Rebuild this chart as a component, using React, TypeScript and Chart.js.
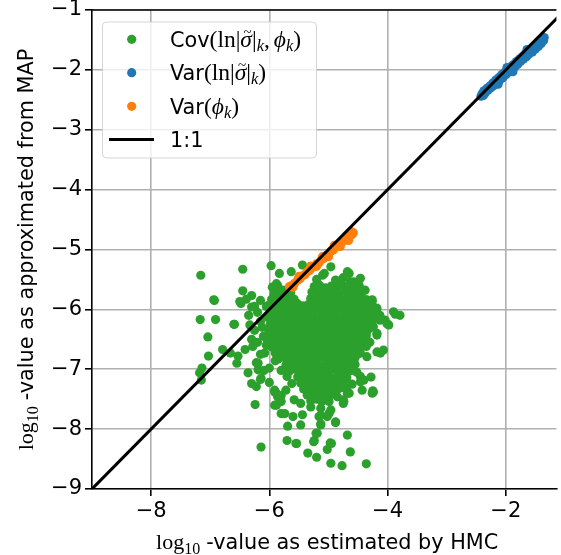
import { useEffect, useRef } from 'react';
import { Chart, registerables } from 'chart.js';

Chart.register(...registerables);

// ---------- data (log10 values) ----------
const X_MIN = -9;
const X_MAX = -1.144;
const Y_MIN = -9;
const Y_MAX = -1;
const xTickValues = [-8, -6, -4, -2];
const yTickValues = [-9, -8, -7, -6, -5, -4, -3, -2, -1];

const seriesLabels = ['Cov', 'Var(ln)', 'Var(phi)', '1:1'];

// Cov(ln|σ̃|_k, φ_k): scattered outer points
const covOuter: [number, number][] = [
  [-7.16, -5.43], [-6.45, -5.33], [-5.97, -5.27], [-6.93, -5.85], [-6.45, -5.69], [-6.30, -5.77],
  [-6.39, -5.83], [-6.48, -5.90], [-6.30, -5.96], [-7.17, -6.17], [-6.91, -6.17], [-6.60, -6.25],
  [-6.33, -6.26], [-7.04, -6.46], [-6.79, -6.67], [-7.03, -6.78], [-6.41, -6.67], [-6.53, -6.78],
  [-7.14, -6.98], [-7.18, -7.06], [-7.15, -7.18], [-6.24, -7.59], [-6.14, -8.30], [-6.36, -7.06],
  [-6.30, -7.24], [-6.22, -7.29], [-6.15, -7.17], [-6.22, -6.89], [-6.19, -7.01], [-6.09, -7.02],
  [-6.00, -7.22], [-5.91, -7.38], [-5.91, -7.60], [-5.69, -7.95], [-5.70, -8.19], [-5.54, -8.24],
  [-5.35, -8.40], [-5.20, -8.47], [-4.96, -8.57], [-4.77, -8.61], [-4.36, -8.58], [-5.24, -8.19],
  [-5.21, -8.07], [-5.02, -8.34], [-4.95, -8.24], [-4.63, -8.38], [-4.68, -8.10], [-4.88, -7.89],
  [-5.13, -7.93], [-5.16, -7.79], [-5.02, -7.79], [-4.96, -7.68], [-5.47, -7.93], [-5.44, -7.76],
  [-5.60, -7.79], [-5.80, -7.74], [-5.88, -7.60], [-4.26, -7.40], [-4.25, -7.36], [-4.28, -7.13],
  [-4.46, -7.21], [-4.40, -7.18], [-4.65, -7.40], [-4.75, -7.51], [-4.75, -7.57], [-5.91, -7.35],
  [-5.86, -7.46], [-5.72, -7.35], [-5.58, -7.51], [-5.47, -7.57], [-5.30, -7.63], [-5.13, -7.65],
  [-4.99, -7.54], [-4.85, -7.46], [-4.35, -6.79], [-4.12, -6.73], [-3.79, -6.10], [-3.90, -6.04],
  [-4.13, -6.10], [-4.04, -6.18], [-3.98, -6.26], [-4.18, -5.98], [-4.26, -5.84], [-4.38, -5.68],
  [-4.46, -5.48], [-4.65, -5.40], [-4.63, -5.54], [-4.82, -5.57], [-4.88, -5.51], [-5.10, -5.43],
  [-4.96, -5.29], [-5.83, -5.40], [-5.63, -5.37], [-5.88, -5.57], [-5.77, -5.68], [-4.18, -6.43],
  [-4.07, -6.68], [-4.57, -6.62], [-4.24, -6.29], [-4.35, -6.37], [-5.44, -5.26], [-5.30, -5.28],
  [-6.94, -5.84], [-6.66, -6.73], [-6.59, -6.25], [-6.50, -5.87], [-6.55, -6.90], [-6.19, -6.90],
  [-6.14, -7.15], [-6.08, -6.73], [-6.00, -6.98], [-5.88, -7.40], [-5.80, -7.54], [-5.74, -7.74],
  [-5.80, -7.44], [-5.55, -8.24], [-5.25, -8.21], [-5.19, -8.07], [-4.97, -8.23], [-4.88, -7.88],
  [-4.99, -7.74], [-5.13, -7.77], [-5.13, -7.91], [-4.24, -7.38], [-4.01, -6.24], [-3.87, -6.08],
  [-4.46, -7.12], [-4.43, -7.35], [-4.68, -7.40], [-4.74, -7.54], [-4.18, -6.71], [-4.46, -6.73],
  [-4.13, -6.18], [-4.18, -6.40], [-4.35, -5.84], [-4.26, -5.87], [-4.68, -5.37], [-4.57, -5.54],
  [-4.63, -5.65], [-4.85, -5.54], [-5.07, -5.40], [-6.20, -6.05], [-6.15, -6.20], [-6.25, -6.35],
  [-6.10, -6.45], [-6.20, -6.55], [-6.05, -6.60], [-6.30, -6.50], [-6.12, -6.30], [-6.05, -5.95],
  [-6.15, -5.85], [-6.25, -5.95], [-6.35, -6.10], [-6.28, -6.62], [-6.15, -6.75],
  [-5.20, -5.50], [-4.75, -5.47], [-5.90, -6.86], [-5.80, -7.02], [-5.70, -7.12], [-5.62, -7.24],
  [-4.55, -6.92], [-4.52, -7.05], [-4.60, -7.25], [-4.70, -7.32], [-4.30, -6.55], [-4.36, -6.62],
];

// Cov(ln|σ̃|_k, φ_k): dense core
const covCore: [number, number][] = [
  [-5.95, -5.63], [-5.86, -5.60], [-5.24, -5.62], [-5.15, -5.60], [-5.05, -5.64], [-4.95, -5.61], [-4.86, -5.63], [-4.76, -5.60], [-4.55, -5.62], [-4.48, -5.60],
  [-5.92, -5.73], [-5.83, -5.70], [-5.74, -5.74], [-5.64, -5.72], [-5.28, -5.71], [-5.19, -5.74], [-5.10, -5.70], [-5.01, -5.73], [-4.91, -5.71], [-4.82, -5.74], [-4.72, -5.70], [-4.63, -5.73], [-4.53, -5.71], [-4.45, -5.75],
  [-5.96, -5.83], [-5.87, -5.80], [-5.77, -5.84], [-5.68, -5.81], [-5.58, -5.83], [-5.30, -5.82], [-5.21, -5.80], [-5.11, -5.84], [-5.02, -5.81], [-4.92, -5.83], [-4.83, -5.80], [-4.73, -5.84], [-4.64, -5.81], [-4.54, -5.83], [-4.45, -5.80], [-4.37, -5.84],
  [-6.01, -5.93], [-5.91, -5.90], [-5.82, -5.94], [-5.72, -5.91], [-5.63, -5.93], [-5.53, -5.90], [-5.44, -5.94], [-5.34, -5.92], [-5.25, -5.90], [-5.15, -5.94], [-5.06, -5.91], [-4.96, -5.93], [-4.87, -5.90], [-4.77, -5.94], [-4.68, -5.91], [-4.58, -5.93], [-4.49, -5.90], [-4.40, -5.94], [-4.31, -5.92],
  [-5.97, -6.03], [-5.87, -6.00], [-5.78, -6.04], [-5.68, -6.01], [-5.59, -6.03], [-5.49, -6.00], [-5.40, -6.04], [-5.30, -6.02], [-5.21, -6.00], [-5.11, -6.04], [-5.02, -6.01], [-4.92, -6.03], [-4.83, -6.00], [-4.73, -6.04], [-4.64, -6.01], [-4.54, -6.03], [-4.45, -6.00], [-4.35, -6.04], [-4.26, -6.02], [-4.18, -6.05],
  [-6.03, -6.13], [-5.93, -6.10], [-5.84, -6.14], [-5.74, -6.11], [-5.65, -6.13], [-5.55, -6.10], [-5.46, -6.14], [-5.36, -6.12], [-5.27, -6.10], [-5.17, -6.14], [-5.08, -6.11], [-4.98, -6.13], [-4.89, -6.10], [-4.79, -6.14], [-4.70, -6.11], [-4.60, -6.13], [-4.51, -6.10], [-4.41, -6.14], [-4.32, -6.12], [-4.22, -6.10], [-4.14, -6.14],
  [-5.98, -6.23], [-5.88, -6.20], [-5.79, -6.24], [-5.69, -6.21], [-5.60, -6.23], [-5.50, -6.20], [-5.41, -6.24], [-5.31, -6.22], [-5.22, -6.20], [-5.12, -6.24], [-5.03, -6.21], [-4.93, -6.23], [-4.84, -6.20], [-4.74, -6.24], [-4.65, -6.21], [-4.55, -6.23], [-4.46, -6.20], [-4.36, -6.24], [-4.27, -6.22],
  [-6.02, -6.33], [-5.92, -6.30], [-5.83, -6.34], [-5.73, -6.31], [-5.64, -6.33], [-5.54, -6.30], [-5.45, -6.34], [-5.35, -6.32], [-5.26, -6.30], [-5.16, -6.34], [-5.07, -6.31], [-4.97, -6.33], [-4.88, -6.30], [-4.78, -6.34], [-4.69, -6.31], [-4.59, -6.33], [-4.50, -6.30], [-4.40, -6.34], [-4.31, -6.32],
  [-5.97, -6.43], [-5.87, -6.40], [-5.78, -6.44], [-5.68, -6.41], [-5.59, -6.43], [-5.49, -6.40], [-5.40, -6.44], [-5.30, -6.42], [-5.21, -6.40], [-5.11, -6.44], [-5.02, -6.41], [-4.92, -6.43], [-4.83, -6.40], [-4.73, -6.44], [-4.64, -6.41], [-4.54, -6.43], [-4.45, -6.40], [-4.36, -6.44],
  [-6.03, -6.53], [-5.93, -6.50], [-5.84, -6.54], [-5.74, -6.51], [-5.65, -6.53], [-5.55, -6.50], [-5.46, -6.54], [-5.36, -6.52], [-5.27, -6.50], [-5.17, -6.54], [-5.08, -6.51], [-4.98, -6.53], [-4.89, -6.50], [-4.79, -6.54], [-4.70, -6.51], [-4.60, -6.53], [-4.51, -6.50], [-4.42, -6.54],
  [-5.96, -6.63], [-5.86, -6.60], [-5.77, -6.64], [-5.67, -6.61], [-5.58, -6.63], [-5.48, -6.60], [-5.39, -6.64], [-5.29, -6.62], [-5.20, -6.60], [-5.10, -6.64], [-5.01, -6.61], [-4.91, -6.63], [-4.82, -6.60], [-4.72, -6.64], [-4.63, -6.61], [-4.53, -6.63], [-4.46, -6.60],
  [-5.90, -6.73], [-5.80, -6.70], [-5.71, -6.74], [-5.61, -6.71], [-5.52, -6.73], [-5.42, -6.70], [-5.33, -6.74], [-5.23, -6.72], [-5.14, -6.70], [-5.04, -6.74], [-4.95, -6.71], [-4.85, -6.73], [-4.76, -6.70], [-4.66, -6.74], [-4.57, -6.71], [-4.50, -6.74],
  [-5.85, -6.83], [-5.75, -6.80], [-5.66, -6.84], [-5.56, -6.81], [-5.47, -6.83], [-5.37, -6.80], [-5.28, -6.84], [-5.18, -6.82], [-5.09, -6.80], [-4.99, -6.84], [-4.90, -6.81], [-4.80, -6.83], [-4.71, -6.80], [-4.62, -6.84], [-4.55, -6.81],
  [-5.72, -6.93], [-5.62, -6.90], [-5.53, -6.94], [-5.43, -6.91], [-5.34, -6.93], [-5.24, -6.90], [-5.15, -6.94], [-5.05, -6.92], [-4.96, -6.90], [-4.86, -6.94], [-4.77, -6.91], [-4.67, -6.93], [-4.60, -6.90],
  [-5.66, -7.03], [-5.56, -7.00], [-5.47, -7.04], [-5.37, -7.01], [-5.28, -7.03], [-5.18, -7.00], [-5.09, -7.04], [-4.99, -7.02], [-4.90, -7.00], [-4.80, -7.04], [-4.71, -7.01], [-4.64, -7.03],
  [-5.52, -7.13], [-5.42, -7.10], [-5.33, -7.14], [-5.23, -7.11], [-5.14, -7.13], [-5.04, -7.10], [-4.95, -7.14], [-4.85, -7.12], [-4.76, -7.10], [-4.69, -7.14],
  [-5.47, -7.23], [-5.37, -7.20], [-5.28, -7.24], [-5.18, -7.21], [-5.09, -7.23], [-4.99, -7.20], [-4.90, -7.24], [-4.80, -7.22], [-4.74, -7.20],
  [-5.42, -7.33], [-5.32, -7.30], [-5.23, -7.34], [-5.13, -7.31], [-5.04, -7.33], [-4.94, -7.30], [-4.85, -7.34], [-4.79, -7.31],
  [-5.36, -7.43], [-5.27, -7.40], [-5.17, -7.44], [-5.08, -7.41], [-4.98, -7.43], [-4.90, -7.40],
  [-5.30, -7.53], [-5.20, -7.50], [-5.11, -7.54], [-5.02, -7.51],
];

// Var(ln|σ̃|_k)
const varLnPoints: [number, number][] = [
  [-2.40, -2.40], [-2.37, -2.35], [-2.35, -2.39], [-2.32, -2.31], [-2.30, -2.34], [-2.27, -2.27],
  [-2.25, -2.30], [-2.22, -2.22], [-2.20, -2.26], [-2.17, -2.17], [-2.15, -2.21], [-2.12, -2.13],
  [-2.10, -2.17], [-2.07, -2.08], [-2.05, -2.13], [-2.02, -2.04], [-2.00, -2.08], [-1.97, -1.99],
  [-1.95, -2.04], [-1.92, -1.95], [-1.90, -1.99], [-1.87, -1.91], [-1.85, -1.95], [-1.82, -1.86],
  [-1.80, -1.91], [-1.77, -1.82], [-1.75, -1.86], [-1.72, -1.78], [-1.70, -1.82], [-1.67, -1.73],
  [-1.65, -1.78], [-1.62, -1.69], [-1.60, -1.73], [-1.57, -1.65], [-1.55, -1.70], [-1.52, -1.61],
  [-1.50, -1.65], [-1.47, -1.57], [-1.45, -1.61], [-1.42, -1.53], [-1.40, -1.56], [-1.37, -1.47],
  [-1.35, -1.46], [-1.36, -1.51], [-2.42, -2.44], [-2.38, -2.43], [-2.13, -2.24], [-1.88, -2.03],
  [-1.64, -1.66], [-1.98, -1.96],
];

// Var(φ_k)
const varPhiPoints: [number, number][] = [
  [-5.66, -5.62], [-5.62, -5.60], [-5.60, -5.63],
  [-5.57, -5.56], [-5.52, -5.51], [-5.48, -5.49], [-5.44, -5.44], [-5.40, -5.42], [-5.36, -5.37],
  [-5.32, -5.35], [-5.28, -5.30], [-5.24, -5.29], [-5.20, -5.24], [-5.16, -5.22], [-5.12, -5.17],
  [-5.08, -5.15], [-5.04, -5.10], [-5.00, -5.08], [-4.96, -5.03], [-4.92, -5.01], [-4.88, -4.96],
  [-4.84, -4.94], [-4.80, -4.90], [-4.76, -4.87], [-4.72, -4.84], [-4.68, -4.80], [-4.64, -4.77],
  [-4.60, -4.75], [-5.50, -5.45], [-5.30, -5.28], [-5.10, -5.12], [-4.90, -4.93], [-4.70, -4.78],
  [-4.62, -4.70], [-5.20, -5.28], [-5.00, -5.12], [-4.80, -4.95], [-4.66, -4.85], [-4.58, -4.72],
];

const oneToOneLine: [number, number][] = [[-9, -9], [-1, -1]];

// ---------- styling helpers ----------
const SANS = '"DejaVu Sans"';
const SERIF = '"Liberation Serif"';
const FS = 20.8;
const GREEN = '#2ca02c';
const BLUE = '#1f77b4';
const ORANGE = '#ff7f0e';
const DOT_R = 4.6;

type Seg = { t: string; f: string; dy?: number; tilde?: boolean; gap?: number };

const sans = `${FS}px ${SANS}`;
const serif = `23.5px ${SERIF}`;
const serifIt = `italic 23.5px ${SERIF}`;
const serifSub = `italic 16.5px ${SERIF}`;
const serifSubR = `16px ${SERIF}`;
const serifT = `22px ${SERIF}`;

function segWidth(ctx: CanvasRenderingContext2D, segs: Seg[]) {
  let w = 0;
  for (const s of segs) {
    ctx.font = s.f;
    w += ctx.measureText(s.t).width + (s.gap || 0);
  }
  return w;
}

function drawSegs(ctx: CanvasRenderingContext2D, segs: Seg[], x: number, y: number) {
  let cx = x;
  for (const s of segs) {
    ctx.font = s.f;
    const w = ctx.measureText(s.t).width;
    ctx.fillText(s.t, cx, y + (s.dy || 0));
    if (s.tilde) {
      ctx.font = `15px ${SERIF}`;
      const tw = ctx.measureText('~').width;
      ctx.fillText('~', cx + w / 2 - tw / 2 + 1.5, y - 10);
    }
    cx += w + (s.gap || 0);
  }
}

const legendRows: { segs: Seg[]; color?: string; line?: boolean }[] = [
  {
    color: GREEN,
    segs: [
      { t: 'Cov', f: sans }, { t: '(', f: serif }, { t: 'ln', f: serif }, { t: '|', f: serif },
      { t: 'σ', f: serifIt, tilde: true }, { t: '|', f: serif }, { t: 'k', f: serifSub, dy: 4 },
      { t: ',', f: serif, gap: 4 }, { t: 'ϕ', f: serifIt }, { t: 'k', f: serifSub, dy: 4 }, { t: ')', f: serif },
    ],
  },
  {
    color: BLUE,
    segs: [
      { t: 'Var', f: sans }, { t: '(', f: serif }, { t: 'ln', f: serif }, { t: '|', f: serif },
      { t: 'σ', f: serifIt, tilde: true }, { t: '|', f: serif }, { t: 'k', f: serifSub, dy: 4 }, { t: ')', f: serif },
    ],
  },
  {
    color: ORANGE,
    segs: [{ t: 'Var', f: sans }, { t: '(', f: serif }, { t: 'ϕ', f: serifIt }, { t: 'k', f: serifSub, dy: 4 }, { t: ')', f: serif }],
  },
  { line: true, segs: [{ t: '1:1', f: sans }] },
];

const xTitle: Seg[] = [
  { t: 'log', f: serifT }, { t: '10', f: serifSubR, dy: 5, gap: 6 },
  { t: '-value as estimated by HMC', f: sans },
];
const yTitle: Seg[] = [
  { t: 'log', f: serifT }, { t: '10', f: serifSubR, dy: 5, gap: 6 },
  { t: '-value as approximated from MAP', f: sans },
];

const decorPlugin = {
  id: 'decor',
  afterDatasetsDraw(chart: any) {
    const { ctx, chartArea } = chart;
    ctx.save();
    ctx.strokeStyle = '#000';
    ctx.lineWidth = 1.6;
    ctx.beginPath();
    ctx.moveTo(chartArea.left - 0.8, chartArea.top);
    ctx.lineTo(chartArea.right, chartArea.top);
    ctx.stroke();
    ctx.restore();
  },
  afterDraw(chart: any) {
    const { ctx, chartArea } = chart;
    ctx.save();
    ctx.textBaseline = 'alphabetic';
    ctx.textAlign = 'left';
    // legend box
    const bx = 102.5, by = 22, bw = 214, bh = 136;
    ctx.beginPath();
    ctx.roundRect(bx, by, bw, bh, 4);
    ctx.fillStyle = 'rgba(255,255,255,0.8)';
    ctx.fill();
    ctx.strokeStyle = 'rgba(204,204,204,0.8)';
    ctx.lineWidth = 1;
    ctx.stroke();
    const rowY = [39.3, 72.7, 106.3, 139.5];
    legendRows.forEach((row, i) => {
      const cy = rowY[i];
      if (row.line) {
        ctx.strokeStyle = '#000';
        ctx.lineWidth = 3;
        ctx.beginPath();
        ctx.moveTo(109, cy);
        ctx.lineTo(154, cy);
        ctx.stroke();
      } else {
        ctx.fillStyle = row.color;
        ctx.beginPath();
        ctx.arc(131.7, cy, DOT_R, 0, Math.PI * 2);
        ctx.fill();
      }
      ctx.fillStyle = '#000';
      drawSegs(ctx, row.segs, 170, cy + 7.6);
    });
    // x title
    ctx.fillStyle = '#000';
    const cxm = (chartArea.left + chartArea.right) / 2;
    const wx = segWidth(ctx, xTitle);
    drawSegs(ctx, xTitle, cxm - wx / 2 + 3, 549);
    // y title
    const cym = (chartArea.top + chartArea.bottom) / 2;
    const wy = segWidth(ctx, yTitle);
    ctx.translate(33, cym);
    ctx.rotate(-Math.PI / 2);
    drawSegs(ctx, yTitle, -wy / 2, 0);
    ctx.restore();
  },
};

const toPts = (arr: [number, number][]) => arr.map(([x, y]) => ({ x, y }));
const fmtTick = (v: number | string) => String(v).replace('-', '\u2212');

export default function App() {
  const ref = useRef<HTMLCanvasElement | null>(null);
  useEffect(() => {
    document.body.style.margin = '0';
    const canvas = ref.current!;
    const tickFont = { family: SANS, size: 21 };
    const chart = new Chart(canvas, {
      type: 'scatter',
      data: {
        datasets: [
          {
            type: 'line', label: seriesLabels[3], data: toPts(oneToOneLine), borderColor: '#000',
            borderWidth: 3, pointRadius: 0, fill: false, order: 0,
          } as any,
          {
            label: seriesLabels[2], data: toPts(varPhiPoints), backgroundColor: ORANGE,
            pointRadius: DOT_R, borderWidth: 0, order: 1,
          },
          {
            label: seriesLabels[1], data: toPts(varLnPoints), backgroundColor: BLUE,
            pointRadius: DOT_R, borderWidth: 0, order: 2,
          },
          {
            label: seriesLabels[0], data: toPts([...covCore, ...covOuter]), backgroundColor: GREEN,
            pointRadius: DOT_R, borderWidth: 0, order: 3,
          },
        ],
      },
      options: {
        responsive: false,
        animation: false,
        devicePixelRatio: 1,
        events: [],
        layout: { padding: { top: 10, right: 0, left: 0, bottom: 0 } },
        plugins: { legend: { display: false }, tooltip: { enabled: false } },
        scales: {
          x: {
            type: 'linear', min: X_MIN, max: X_MAX,
            afterBuildTicks: (s: any) => { s.ticks = xTickValues.map((v) => ({ value: v })); },
            afterFit: (s: any) => { s.height = 66; s.paddingLeft = 0; s.paddingRight = 0; },
            grid: { color: '#b0b0b0', lineWidth: 1.6, tickColor: '#000', tickLength: 7, tickWidth: 1.6 },
            border: { color: '#000', width: 1.6 },
            ticks: { font: tickFont, color: '#000', padding: 3, maxRotation: 0, autoSkip: false, callback: fmtTick },
          },
          y: {
            type: 'linear', min: Y_MIN, max: Y_MAX,
            afterBuildTicks: (s: any) => { s.ticks = yTickValues.map((v) => ({ value: v })); },
            afterFit: (s: any) => { s.width = 92; s.paddingTop = 0; s.paddingBottom = 0; },
            grid: { color: '#b0b0b0', lineWidth: 1.6, tickColor: '#000', tickLength: 7, tickWidth: 1.6 },
            border: { color: '#000', width: 1.6 },
            ticks: { font: tickFont, color: '#000', padding: 3, autoSkip: false, callback: fmtTick },
          },
        },
      },
      plugins: [decorPlugin],
    });
    return () => chart.destroy();
  }, []);
  return (
    <canvas ref={ref} width={561} height={555} style={{ display: 'block', width: 561, height: 555 }} />
  );
}
